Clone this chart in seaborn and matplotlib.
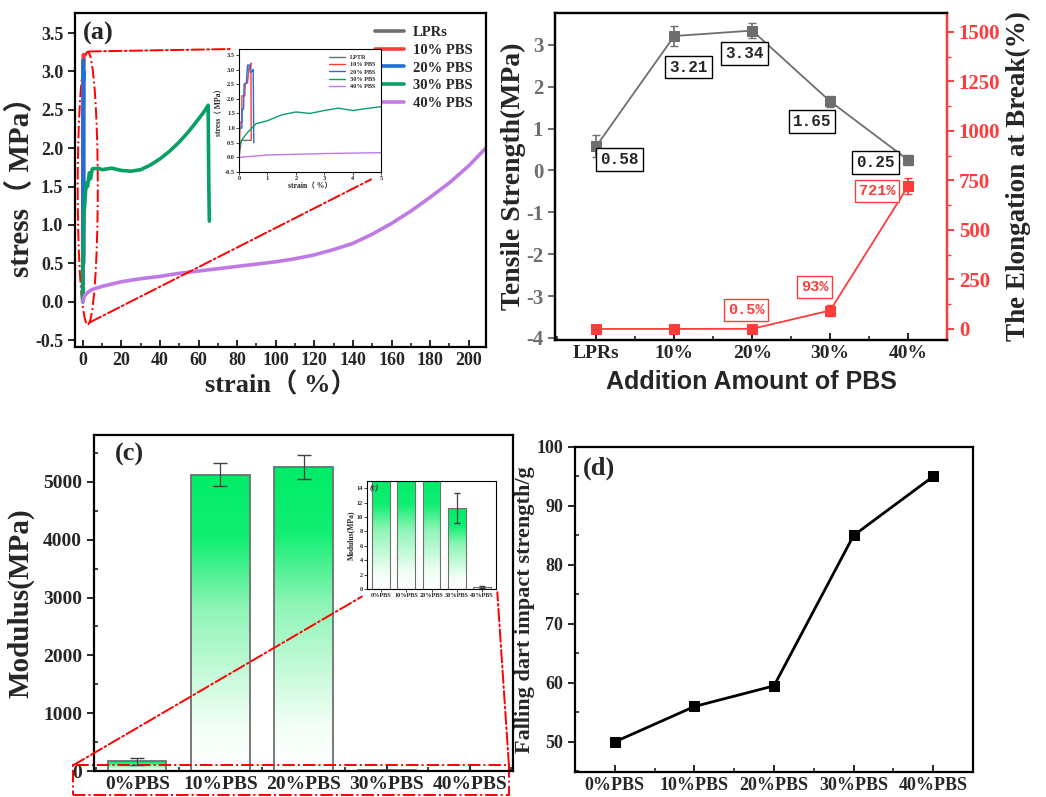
import numpy as np
import pandas as pd
import matplotlib.pyplot as plt
import seaborn as sns
from matplotlib.patches import Ellipse, Rectangle, ConnectionPatch
from matplotlib.colors import LinearSegmentedColormap
from matplotlib.ticker import MultipleLocator

# ---------- data ----------
# (a) stress-strain curves
strain_lpr = [0, 0.08, 0.42]
stress_lpr = [0, 0.58, 0.58]
strain_10 = [0, 0.04, 0.1, 0.1, 0.2, 0.22, 0.3, 0.35, 0.4, 0.42, 0.43]
stress_10 = [0, 1.2, 1.2, 2.1, 2.1, 2.5, 2.55, 3.1, 3.15, 3.22, 0.6]
strain_20 = [0, 0.01, 0.1, 0.11, 0.16, 0.18, 0.26, 0.3, 0.38, 0.4, 0.47, 0.5, 0.52]
stress_20 = [0, 1.0, 1.0, 1.65, 1.65, 2.5, 2.55, 3.15, 3.15, 2.9, 2.95, 3.0, 0.5]
strain_30 = [0, 0.02, 0.1, 0.3, 0.45, 0.6, 1, 1.5, 2, 2.5, 3, 3.5, 4, 4.5, 5, 8, 10, 15,
             20, 25, 30, 35, 40, 45, 50, 55, 60, 63, 65, 65.3, 65.6]
stress_30 = [0, 0.4, 0.6, 0.85, 1.0, 1.15, 1.25, 1.45, 1.55, 1.5, 1.6, 1.68, 1.6, 1.67, 1.73,
             1.74, 1.72, 1.74, 1.71, 1.7, 1.72, 1.78, 1.86, 1.96, 2.08, 2.22, 2.38, 2.48, 2.56, 1.6, 1.05]
strain_40 = [0, 1, 3, 5, 10, 20, 30, 40, 50, 60, 70, 80, 90, 100, 110, 120, 130, 140, 150,
             160, 170, 180, 190, 200, 205, 210]
stress_40 = [0, 0.08, 0.13, 0.16, 0.2, 0.26, 0.3, 0.33, 0.37, 0.4, 0.43, 0.46, 0.49, 0.52,
             0.56, 0.61, 0.68, 0.76, 0.88, 1.02, 1.18, 1.36, 1.55, 1.77, 1.9, 2.03]

# (b) tensile strength / elongation
cats_b = ['LPRs', '10%', '20%', '30%', '40%']
tensile = [0.58, 3.21, 3.34, 1.65, 0.25]
tensile_err = [0.27, 0.25, 0.18, 0.13, 0.12]
elong = [0, 0, 0.5, 93, 721]
elong_err = [4, 4, 4, 30, 40]
lab_tensile = ['0.58', '3.21', '3.34', '1.65', '0.25']
lab_elong = ['0.5%', '93%', '721%']

# (c) modulus
cats_c = ['0%PBS', '10%PBS', '20%PBS', '30%PBS', '40%PBS']
modulus = [170, 5120, 5260, 11.2, 0.3]
modulus_err = [60, 200, 210, 2.1, 0.1]

# (d) falling dart impact
dart = [50, 56, 59.5, 85, 95]

gray = '#6e6e6e'
red = '#ff3b3b'
blue = '#1f6fdc'
green = '#08a064'
purple = '#c07ae6'

sns.set_theme(style="ticks")
plt.rcParams['font.family'] = ['Liberation Serif', 'Noto Sans CJK SC']
plt.rcParams['font.weight'] = 'bold'
plt.rcParams['axes.labelweight'] = 'bold'
plt.rcParams['axes.linewidth'] = 1.6
plt.rcParams['axes.edgecolor'] = 'black'
plt.rcParams['axes.unicode_minus'] = False

fig = plt.figure(figsize=(10.46, 7.97), dpi=100)
axa = fig.add_axes([0.0717, 0.5646, 0.393, 0.419])
axb = fig.add_axes([0.5306, 0.5734, 0.3748, 0.4103])
axc = fig.add_axes([0.0899, 0.0326, 0.4006, 0.4216])
axd = fig.add_axes([0.5497, 0.0314, 0.3805, 0.4078])
ins_a = fig.add_axes([0.2285, 0.7842, 0.1358, 0.1543])
ins_c = fig.add_axes([0.3509, 0.261, 0.1233, 0.1355])

curves = [(strain_lpr, stress_lpr, gray, 'LPRs'), (strain_10, stress_10, red, '10% PBS'),
          (strain_20, stress_20, blue, '20% PBS'), (strain_30, stress_30, green, '30% PBS'),
          (strain_40, stress_40, purple, '40% PBS')]


def style_ticks(ax, size):
    ax.tick_params(axis='y', direction='out', width=1.4, length=5, labelsize=size)
    ax.tick_params(axis='x', direction='in', width=1.4, length=5, labelsize=size)
    ax.tick_params(which='minor', direction='in', width=1.2, length=3)
    for lab in ax.get_xticklabels() + ax.get_yticklabels():
        lab.set_fontweight('bold')


# ---------- (a) ----------
for x, y, c, lab in curves:
    sns.lineplot(x=x, y=y, sort=False, estimator=None, color=c, lw=2.6, ax=axa, label=lab)
axa.set_xlim(-4, 209)
axa.set_ylim(-0.59, 3.76)
axa.xaxis.set_major_locator(MultipleLocator(20))
axa.xaxis.set_minor_locator(MultipleLocator(10))
axa.yaxis.set_major_locator(MultipleLocator(0.5))
axa.set_xlabel('strain（ %）', fontsize=19, labelpad=2)
axa.set_ylabel('stress（ MPa）', fontsize=21, labelpad=0)
style_ticks(axa, 13)
axa.legend(loc='upper right', frameon=False, handlelength=2.0, handletextpad=0.6,
           borderaxespad=0.5, labelspacing=0.3, prop={'weight': 'bold', 'size': 10.5})
axa.text(0.02, 0.975, '(a)', transform=axa.transAxes, fontsize=19, fontweight='bold', va='top')
axa.add_patch(Ellipse((2.6, 1.48), 10.4, 3.55, fill=False, ec='red', ls='-.', lw=1.4))
fig.add_artist(ConnectionPatch((3.0, 3.26), (-0.05, 1.0), coordsA=axa.transData,
                               coordsB=ins_a.transAxes, color='red', ls='-.', lw=1.4))
fig.add_artist(ConnectionPatch((3.6, -0.27), (0.93, -0.06), coordsA=axa.transData,
                               coordsB=ins_a.transAxes, color='red', ls='-.', lw=1.4))

insa_labels = ['LPTR', '10% PBS', '20% PBS', '30% PBS', '40% PBS']
for (x, y, c, _), lab in zip(curves, insa_labels):
    sns.lineplot(x=x, y=y, sort=False, estimator=None, color=c, lw=1.0, ax=ins_a, label=lab)
ins_a.set_xlim(0, 5)
ins_a.set_ylim(-0.5, 3.7)
ins_a.yaxis.set_major_locator(MultipleLocator(0.5))
ins_a.set_xlabel('strain（ %）', fontsize=5.5, labelpad=1)
ins_a.set_ylabel('stress（ MPa）', fontsize=5.5, labelpad=1)
ins_a.tick_params(labelsize=4.5, length=2, width=0.6, pad=1)
for s in ins_a.spines.values():
    s.set_linewidth(0.8)
ins_a.legend(loc='upper right', frameon=False, prop={'weight': 'bold', 'size': 4.5},
             handlelength=2.5, labelspacing=0.3)

# ---------- (b) ----------
xb = np.arange(len(cats_b))
axb2 = axb.twinx()
sns.lineplot(x=xb, y=tensile, color=gray, lw=1.3, marker='s', markersize=7,
             markeredgecolor=gray, ax=axb)
axb.errorbar(xb, tensile, yerr=tensile_err, fmt='none', ecolor=gray, capsize=3, lw=1.2)
sns.lineplot(x=xb, y=elong, color=red, lw=1.3, marker='s', markersize=7,
             markeredgecolor=red, ax=axb2)
axb2.errorbar(xb, elong, yerr=elong_err, fmt='none', ecolor=red, capsize=3, lw=1.2)
axb.set_xlim(-0.53, 4.5)
axb.set_ylim(-4.05, 3.76)
axb2.set_ylim(-56, 1596)
axb.set_xticks(xb)
axb.set_xticklabels(cats_b)
axb.xaxis.set_minor_locator(MultipleLocator(0.5))
axb.yaxis.set_major_locator(MultipleLocator(1))
axb2.yaxis.set_major_locator(MultipleLocator(250))
axb2.yaxis.set_minor_locator(MultipleLocator(125))
style_ticks(axb, 15)
axb.tick_params(axis='y', colors=gray, labelsize=15)
axb.tick_params(axis='x', labelsize=14)
axb2.tick_params(axis='y', colors=red, labelsize=15, width=1.4, length=5)
axb2.tick_params(axis='y', which='minor', colors=red, length=3)
for lab in axb2.get_yticklabels():
    lab.set_fontweight('bold')
axb2.spines['right'].set_color(red)
axb.set_ylabel('Tensile Strength(MPa)', fontsize=20, labelpad=0)
axb2.set_ylabel('The Elongation at Break(%)', fontsize=19.5, labelpad=4)
axb.set_xlabel('Addition Amount of PBS', fontsize=18, family='Liberation Sans', labelpad=6)

pos_t = [(0.3, 0.26), (1.18, 2.47), (1.9, 2.79), (2.77, 1.16), (3.58, 0.2)]
for (px, py), t in zip(pos_t, lab_tensile):
    axb.text(px, py, t, ha='center', va='center', fontsize=11.5, family='Liberation Mono',
             fontweight='bold', bbox=dict(boxstyle='square,pad=0.25', fc='white', ec='black', lw=1))
pos_e = [(1.92, 96), (2.8, 212), (3.6, 697)]
for (px, py), t in zip(pos_e, lab_elong):
    axb2.text(px, py, t, ha='center', va='center', fontsize=11, family='Liberation Mono',
              fontweight='bold', color=red,
              bbox=dict(boxstyle='square,pad=0.25', fc='white', ec=red, lw=1))

# ---------- (c) ----------
cmap = LinearSegmentedColormap.from_list('gfade', [(0, 'white'), (0.15, '#f2fff6'),
                                                    (0.55, '#8ef5b6'), (0.78, '#12ef73'),
                                                    (1, '#00ec68')])
grad = np.linspace(0, 1, 256).reshape(-1, 1)


def grad_bars(ax, vals, errs, ymax, lw, cap):
    df = pd.DataFrame({'cat': cats_c, 'val': vals})
    sns.barplot(data=df, x='cat', y='val', ax=ax, width=0.7, color='white',
                edgecolor='#707070', linewidth=lw, errorbar=None)
    for p in ax.patches:
        x0, w, h = p.get_x(), p.get_width(), p.get_height()
        top = min(h, ymax)
        im = ax.imshow(grad, cmap=cmap, origin='lower', aspect='auto',
                       extent=[x0, x0 + w, 0, top], zorder=p.get_zorder() - 0.1)
        im.set_clip_path(p)
        p.set_facecolor('none')
    ax.errorbar(np.arange(len(vals)), vals, yerr=errs, fmt='none', ecolor='#404040',
                capsize=cap, lw=0.9)


grad_bars(axc, modulus, modulus_err, 6000, 1.3, 5)
axc.set_xlim(-0.52, 4.52)
axc.set_ylim(0, 5810)
axc.yaxis.set_major_locator(MultipleLocator(1000))
axc.yaxis.set_minor_locator(MultipleLocator(500))
axc.xaxis.set_minor_locator(MultipleLocator(0.5))
axc.set_xlabel('')
axc.set_ylabel('Modulus(MPa)', fontsize=21, labelpad=6)
style_ticks(axc, 14)
axc.text(0.05, 0.975, '(c)', transform=axc.transAxes, fontsize=19, fontweight='bold', va='top')
axc.add_patch(Rectangle((-0.77, -414), 5.24, 514, fill=False, ec='red', ls='-.', lw=1.4,
                        clip_on=False))
fig.add_artist(ConnectionPatch((-0.77, 100), (-0.04, -0.07), coordsA=axc.transData,
                               coordsB=ins_c.transAxes, color='red', ls='-.', lw=1.4))
fig.add_artist(ConnectionPatch((4.47, 100), (1.01, -0.03), coordsA=axc.transData,
                               coordsB=ins_c.transAxes, color='red', ls='-.', lw=1.4))

grad_bars(ins_c, modulus, modulus_err, 15, 0.8, 2)
ins_c.set_xlim(-0.55, 4.55)
ins_c.set_ylim(0, 15)
ins_c.yaxis.set_major_locator(MultipleLocator(2))
ins_c.set_xlabel('')
ins_c.set_ylabel('Modulus(MPa)', fontsize=5.5, labelpad=1)
ins_c.tick_params(labelsize=4.5, length=2, width=0.6, pad=1)
for s in ins_c.spines.values():
    s.set_linewidth(0.8)
ins_c.text(0.02, 0.97, '(c)', transform=ins_c.transAxes, fontsize=6, style='italic',
           fontweight='bold', va='top')

# ---------- (d) ----------
sns.lineplot(x=np.arange(len(cats_c)), y=dart, color='black', lw=2, marker='s',
             markersize=7, markeredgecolor='black', ax=axd)
axd.set_xlim(-0.5, 4.5)
axd.set_ylim(44.9, 100)
axd.set_xticks(np.arange(len(cats_c)))
axd.set_xticklabels(cats_c)
axd.xaxis.set_minor_locator(MultipleLocator(0.5))
axd.yaxis.set_major_locator(MultipleLocator(10))
axd.yaxis.set_minor_locator(MultipleLocator(5))
axd.set_ylabel('Falling dart impact strength/g', fontsize=16, labelpad=1)
style_ticks(axd, 13)
axd.text(0.02, 0.97, '(d)', transform=axd.transAxes, fontsize=19, fontweight='bold', va='top')

fig.savefig('out.png', dpi=100)
